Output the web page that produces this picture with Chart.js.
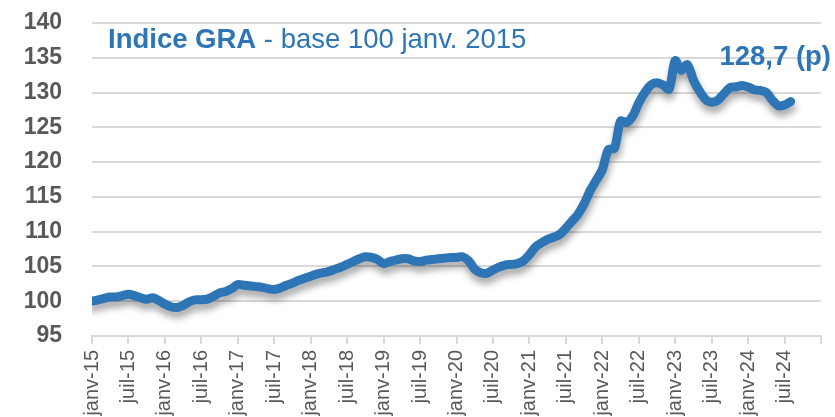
<!DOCTYPE html>
<html>
<head>
<meta charset="utf-8">
<script src="https://cdn.jsdelivr.net/npm/chart.js@4.4.1/dist/chart.umd.min.js"></script>
<style>
  html,body{margin:0;padding:0;background:#fff;}
  #wrap{width:835px;height:417px;position:relative;}
</style>
</head>
<body>
<div id="wrap"><canvas id="myChart"></canvas></div>
<script>
// labels shown every 6 months on the x axis
const tickLabels=["janv-15","juil-15","janv-16","juil-16","janv-17","juil-17","janv-18","juil-18","janv-19","juil-19",
                  "janv-20","juil-20","janv-21","juil-21","janv-22","juil-22","janv-23","juil-23","janv-24","juil-24"];
// monthly values, janv-15 .. août-24
const gra=[100.0,100.2,100.4,100.6,100.6,100.8,101.0,100.8,100.5,100.3,100.5,100.1,
           99.6,99.2,99.1,99.4,99.9,100.2,100.2,100.3,100.7,101.2,101.4,101.8,
           102.4,102.3,102.2,102.1,102.0,101.8,101.7,101.9,102.3,102.6,103.0,103.3,
           103.6,103.9,104.1,104.3,104.6,104.9,105.3,105.7,106.1,106.4,106.3,106.0,
           105.4,105.7,105.9,106.1,106.1,105.8,105.7,105.9,106.0,106.1,106.2,106.3,
           106.3,106.4,105.8,104.6,104.1,104.0,104.5,104.9,105.2,105.3,105.4,105.8,
           106.7,107.8,108.4,108.9,109.2,109.6,110.5,111.5,112.5,114.0,115.9,117.4,
           118.9,121.8,122.0,125.9,125.7,126.6,128.5,130.0,131.1,131.4,131.1,130.5,
           134.6,133.2,134.0,131.8,130.2,129.0,128.6,128.9,129.8,130.7,130.8,131.0,
           130.8,130.4,130.3,130.0,128.9,128.1,128.2,128.7];
const lastLabel="128,7 (p)";
const blue="#2E75B6";
const gray="#595959";
const gridColor="#D9D9D9";
const fontFam='"Liberation Sans", Arial, sans-serif';

var points=[];
for(var i=0;i<gra.length;i++)
  points.push({x:i,y:gra[i]});

// drop shadow under the line
const shadowPlugin={
  id:'shadow',
  beforeDatasetsDraw(chart){
    const ctx=chart.ctx;
    ctx.save();
    ctx.shadowColor='rgba(0,0,0,0.35)';
    ctx.shadowBlur=7;
    ctx.shadowOffsetX=1;
    ctx.shadowOffsetY=6;
  },
  afterDatasetsDraw(chart){
    chart.ctx.restore();
  }
};

// title + last value label
const textPlugin={
  id:'texts',
  afterDraw(chart){
    const ctx=chart.ctx;
    ctx.save();
    ctx.fillStyle=blue;
    ctx.textBaseline='alphabetic';
    ctx.textAlign='left';
    ctx.font='bold 27.5px '+fontFam;
    const bold="Indice GRA";
    ctx.fillText(bold,108,48);
    const w=ctx.measureText(bold).width;
    ctx.font='27.5px '+fontFam;
    ctx.fillText(" - base 100 janv. 2015",108+w,48);
    ctx.font='bold 27.5px '+fontFam;
    ctx.textAlign='right';
    ctx.fillText(lastLabel,831,65);
    ctx.restore();
  }
};

const ctx=document.getElementById('myChart').getContext('2d');
const myChart=new Chart(ctx,{
  type:'line',
  data:{
    datasets:[{
      label:'Indice GRA',
      data:points,
      borderColor:blue,
      borderWidth:9,
      pointRadius:0,
      tension:0.3,
      borderCapStyle:'round',
      borderJoinStyle:'round',
      fill:false
    }]
  },
  options:{
    responsive:true,
    maintainAspectRatio:false,
    animation:false,
    layout:{padding:{top:23,right:14,left:0,bottom:0}},
    plugins:{
      legend:{display:false},
      tooltip:{enabled:false}
    },
    scales:{
      x:{
        type:'linear',
        min:0,
        max:120,
        afterFit:function(scale){
          scale.height=81;
          scale.paddingLeft=0;
          scale.paddingRight=0;
        },
        border:{display:true,color:gridColor,width:2},
        grid:{display:true,drawOnChartArea:false,drawTicks:true,tickLength:8,color:gridColor,lineWidth:2},
        ticks:{
          stepSize:6,
          autoSkip:false,
          maxRotation:90,
          minRotation:90,
          padding:6,
          color:gray,
          font:{family:fontFam,size:20},
          callback:function(v){
            var k=Math.round(v/6);
            return tickLabels[k]!==undefined ? tickLabels[k] : '';
          }
        }
      },
      y:{
        min:95,
        max:140,
        afterFit:function(scale){
          scale.width=92;
          scale.paddingTop=0;
          scale.paddingBottom=0;
        },
        border:{display:false},
        grid:{color:gridColor,lineWidth:2,drawTicks:false},
        ticks:{
          stepSize:5,
          padding:30,
          color:gray,
          font:{family:fontFam,size:23,weight:'bold'}
        }
      }
    }
  },
  plugins:[shadowPlugin,textPlugin]
});
</script>
</body>
</html>
